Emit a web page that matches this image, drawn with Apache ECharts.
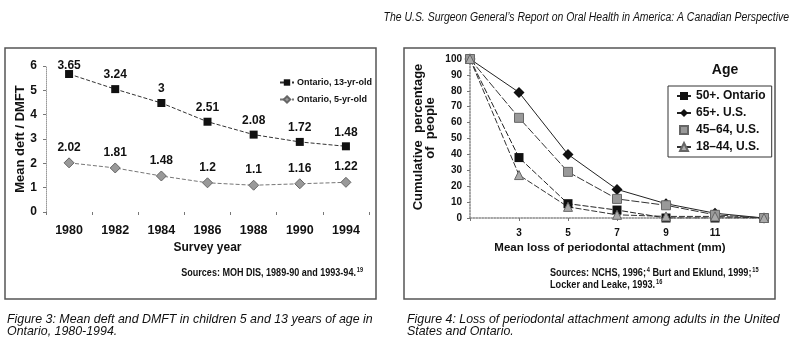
<!DOCTYPE html>
<html>
<head>
<meta charset="utf-8">
<script src="https://cdn.jsdelivr.net/npm/echarts@6/dist/echarts.min.js"></script>
<style>html,body{margin:0;padding:0;background:#fff}#c{width:800px;height:360px}</style>
</head>
<body>
<div id="c"></div>
<script>
// Figure 3 data
const years = ['1980', '1982', '1984', '1986', '1988', '1990', '1994'];
const age13 = [3.65, 3.24, 3, 2.51, 2.08, 1.72, 1.48];
const age5 = [2.02, 1.81, 1.48, 1.2, 1.1, 1.16, 1.22];
// Figure 4 data
const lossMm = ['1', '3', '5', '7', '9', '11', '13'];
const ont50 = [100, 38, 9, 5, 0, 0, 0];
const us65 = [100, 79, 40, 18, 9, 3, 0];
const us4564 = [100, 63, 29, 12, 8, 2, 0];
const us1844 = [100, 27, 7, 2, 1, 1, 0];

const F = 'Liberation Sans, Arial, sans-serif';
const chart = echarts.init(document.getElementById('c'), null, {renderer: 'canvas'});

const boldLabel = {fontFamily: F, fontWeight: 'bold', color: '#111'};
const supStyle = {fontSize: 6.5, fontFamily: F, fontWeight: 'bold', padding: [0, 0, 6, 1]};

chart.setOption({
  animation: false,
  backgroundColor: '#fff',
  grid: [
    {left: 46, top: 66, width: 323, height: 146},
    {left: 470, top: 59, width: 294, height: 159}
  ],
  xAxis: [
    {
      gridIndex: 0, type: 'category', data: years, boundaryGap: true,
      name: 'Survey year', nameLocation: 'middle', nameGap: 30,
      nameTextStyle: Object.assign({fontSize: 12}, boldLabel),
      axisLine: {show: false},
      axisTick: {show: true, length: 3, lineStyle: {color: '#777'}},
      axisLabel: Object.assign({fontSize: 12.5, margin: 12}, boldLabel),
      splitLine: {show: false}
    },
    {
      gridIndex: 1, type: 'category', data: lossMm, boundaryGap: false,
      axisLine: {show: true, lineStyle: {color: '#888', type: 'dotted', width: 1.5}},
      axisTick: {show: true, length: 3, lineStyle: {color: '#777'}},
      axisLabel: Object.assign({fontSize: 10, margin: 10,
        formatter: (v, i) => (i === 0 || i === lossMm.length - 1) ? '' : v}, boldLabel),
      splitLine: {show: false}
    }
  ],
  yAxis: [
    {
      gridIndex: 0, type: 'value', min: 0, max: 6, interval: 1,
      name: 'Mean deft / DMFT', nameLocation: 'middle', nameGap: 18,
      nameTextStyle: Object.assign({fontSize: 13}, boldLabel),
      axisLine: {show: true, lineStyle: {color: '#999', type: 'dotted', width: 1}},
      axisTick: {show: true, length: 3, lineStyle: {color: '#777'}},
      axisLabel: Object.assign({fontSize: 12, margin: 9}, boldLabel),
      splitLine: {show: false}
    },
    {
      gridIndex: 1, type: 'value', min: 0, max: 100, interval: 10,
      axisLine: {show: true, lineStyle: {color: '#888', type: 'dotted', width: 1.5}},
      axisTick: {show: true, length: 3, lineStyle: {color: '#777'}},
      axisLabel: Object.assign({fontSize: 10, margin: 8}, boldLabel),
      splitLine: {show: false}
    }
  ],
  legend: [
    {
      left: 274, top: 73, orient: 'vertical', itemGap: 8, itemWidth: 14, itemHeight: 8,
      data: ['Ontario, 13-yr-old', 'Ontario, 5-yr-old'],
      textStyle: {fontFamily: F, fontWeight: 'bold', fontSize: 9, color: '#111', padding: [0, 0, 0, -2]}
    },
    {
      left: 668, top: 86, width: 101, height: 78, orient: 'vertical', itemGap: 5, itemWidth: 14, itemHeight: 10,
      padding: [4, 6, 4, 8],
      borderColor: '#333', borderWidth: 1,
      data: [
        {name: '50+. Ontario'},
        {name: '65+. U.S.'},
        {name: '45–64, U.S.', lineStyle: {opacity: 0}},
        {name: '18–44, U.S.'}
      ],
      textStyle: {fontFamily: F, fontWeight: 'bold', fontSize: 12, color: '#111'}
    }
  ],
  series: [
    {
      name: 'Ontario, 5-yr-old', type: 'line', xAxisIndex: 0, yAxisIndex: 0, stack: 'kids',
      data: age5, symbol: 'diamond', symbolSize: 10,
      lineStyle: {color: '#777', width: 1, type: [4, 2]},
      itemStyle: {color: '#999', borderColor: '#666', borderWidth: 1},
      label: Object.assign({show: true, position: 'top', distance: 4, fontSize: 12}, boldLabel)
    },
    {
      name: 'Ontario, 13-yr-old', type: 'line', xAxisIndex: 0, yAxisIndex: 0, stack: 'kids',
      data: age13.map((v, i) => i === 0 ? {value: v, label: {offset: [0, 6]}} : v),
      symbol: 'rect', symbolSize: 8,
      lineStyle: {color: '#333', width: 1, type: [4, 2]},
      itemStyle: {color: '#111'},
      label: Object.assign({show: true, position: 'top', distance: 4, fontSize: 12}, boldLabel)
    },
    {
      name: '50+. Ontario', type: 'line', xAxisIndex: 1, yAxisIndex: 1, data: ont50,
      symbol: 'rect', symbolSize: 9,
      lineStyle: {color: '#222', width: 1, type: [6, 2]},
      itemStyle: {color: '#111'}
    },
    {
      name: '65+. U.S.', type: 'line', xAxisIndex: 1, yAxisIndex: 1, data: us65,
      symbol: 'diamond', symbolSize: 11,
      lineStyle: {color: '#222', width: 1},
      itemStyle: {color: '#111'}
    },
    {
      name: '45–64, U.S.', type: 'line', xAxisIndex: 1, yAxisIndex: 1, data: us4564,
      symbol: 'rect', symbolSize: 9,
      lineStyle: {color: '#333', width: 1, type: [8, 2]},
      itemStyle: {color: '#999', borderColor: '#666', borderWidth: 1}
    },
    {
      name: '18–44, U.S.', type: 'line', xAxisIndex: 1, yAxisIndex: 1, data: us1844,
      symbol: 'triangle', symbolSize: 9,
      lineStyle: {color: '#333', width: 1, type: [6, 2]},
      itemStyle: {color: '#aaa', borderColor: '#666', borderWidth: 1}
    }
  ],
  graphic: [
    {type: 'rect', shape: {x: 5, y: 48, width: 371, height: 251}, style: {fill: 'none', stroke: '#555', lineWidth: 1.5}, silent: true},
    {type: 'rect', shape: {x: 404, y: 48, width: 371, height: 251}, style: {fill: 'none', stroke: '#555', lineWidth: 1.5}, silent: true},
    {type: 'text', x: 789, y: 18, scaleX: 0.87, style: {text: 'The U.S. Surgeon General’s Report on Oral Health in America: A Canadian Perspective',
      font: 'italic 12px ' + F, fill: '#111', align: 'right', verticalAlign: 'middle'}},
    {type: 'text', x: 725, y: 70, style: {text: 'Age', font: 'bold 14px ' + F, fill: '#111', align: 'center', verticalAlign: 'middle'}},
    {type: 'text', x: 418, y: 137, rotation: Math.PI / 2, style: {text: 'Cumulative  percentage', font: 'bold 13px ' + F, fill: '#111', align: 'center', verticalAlign: 'middle'}},
    {type: 'text', x: 430, y: 128, rotation: Math.PI / 2, style: {text: 'of  people', font: 'bold 13px ' + F, fill: '#111', align: 'center', verticalAlign: 'middle'}},
    {type: 'text', x: 610, y: 248, style: {text: 'Mean loss of periodontal attachment (mm)', font: 'bold 11.5px ' + F, fill: '#111', align: 'center', verticalAlign: 'middle'}},
    {type: 'text', x: 363, y: 273, scaleX: 0.86, style: {
      text: 'Sources: MOH DIS, 1989-90 and 1993-94.{s|19}', align: 'right', verticalAlign: 'middle',
      font: 'bold 10.5px ' + F, fill: '#111', rich: {s: supStyle}}},
    {type: 'text', x: 550, y: 279, scaleX: 0.87, style: {
      text: 'Sources: NCHS, 1996;{s|4} Burt and Eklund, 1999;{s|15}\nLocker and Leake, 1993.{s|16}', align: 'left', verticalAlign: 'middle', lineHeight: 12.5,
      font: 'bold 10.5px ' + F, fill: '#111', rich: {s: supStyle}}},
    {type: 'text', x: 7, y: 313, style: {text: 'Figure 3: Mean deft and DMFT in children 5 and 13 years of age in\nOntario, 1980-1994.',
      font: 'italic 12.4px ' + F, fill: '#111', lineHeight: 12.5}},
    {type: 'text', x: 407, y: 313, style: {text: 'Figure 4: Loss of periodontal attachment among adults in the United\nStates and Ontario.',
      font: 'italic 12.4px ' + F, fill: '#111', lineHeight: 12.5}}
  ]
});
</script>
</body>
</html>
